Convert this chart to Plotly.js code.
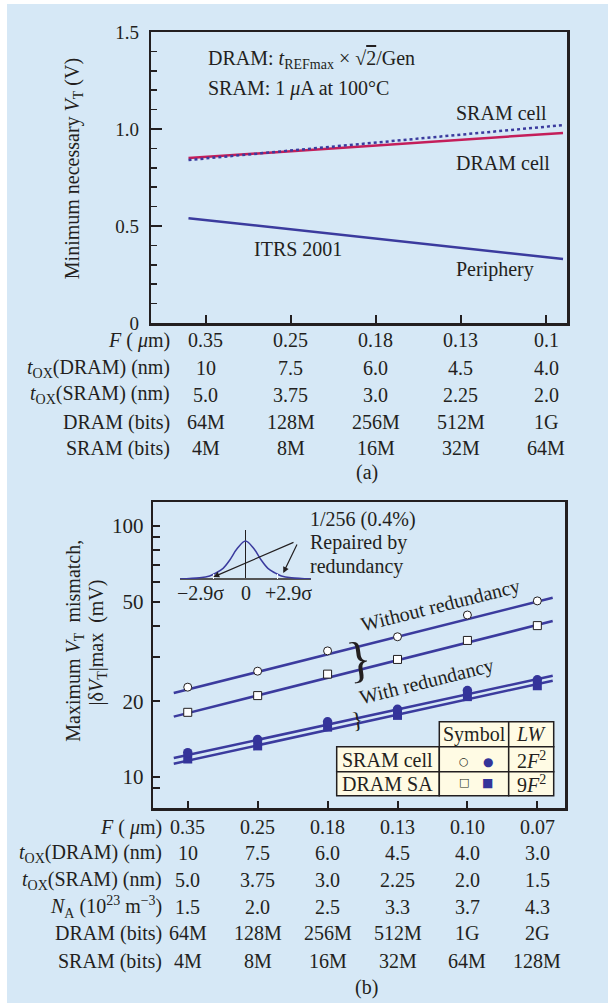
<!DOCTYPE html>
<html><head><meta charset="utf-8">
<script src="https://cdn.plot.ly/plotly-3.0.1.min.js"></script>
<style>html,body{margin:0;padding:0;background:#fff;} #chart{width:608px;height:1006px;}</style>
</head><body><div id="chart"></div>
<script>
// ---------- DATA: panel (a) ----------
const fA        = ['0.35','0.25','0.18','0.13','0.1'];
const toxDramA  = ['10','7.5','6.0','4.5','4.0'];
const toxSramA  = ['5.0','3.75','3.0','2.25','2.0'];
const dramBitsA = ['64M','128M','256M','512M','1G'];
const sramBitsA = ['4M','8M','16M','32M','64M'];
const lineXA     = [-0.2, 4.2];        // line extent in generation units
const sramCellA  = [0.84, 1.02];
const dramCellA  = [0.85, 0.98];
const peripheryA = [0.54, 0.33];
const yTicksA    = [0, 0.5, 1.0, 1.5];
const yTickTextA = ['0','0.5','1.0','1.5'];

// ---------- DATA: panel (b) ----------
const fB        = ['0.35','0.25','0.18','0.13','0.10','0.07'];
const toxDramB  = ['10','7.5','6.0','4.5','4.0','3.0'];
const toxSramB  = ['5.0','3.75','3.0','2.25','2.0','1.5'];
const naB       = ['1.5','2.0','2.5','3.3','3.7','4.3'];
const dramBitsB = ['64M','128M','256M','512M','1G','2G'];
const sramBitsB = ['4M','8M','16M','32M','64M','128M'];
const sramOpen   = [22.8, 26.4, 31.8, 36.2, 44.2, 50.3];
const dramOpen   = [18.1, 21.1, 25.7, 29.4, 35.0, 40.1];
const sramFilled = [12.5, 14.1, 16.6, 18.6, 22.1, 24.4];
const dramFilled = [11.8, 13.3, 15.8, 17.6, 20.9, 23.1];
const fitX        = [-0.2, 5.22];
const sramWithout = [21.6, 51.8];
const dramWithout = [17.4, 41.8];
const sramWith    = [11.9, 25.3];
const dramWith    = [11.3, 24.2];
const yTicksB    = [9,10,20,30,40,50,60,70,80,90,100];
const yTickTextB = ['','10','20','','','50','','','','','100'];

// inset distribution sketch (sigma units, relative height)
const gaussX = [-5.85,-4.1,-3.2,-2.6,-2.0,-1.4,-0.74,0,0.74,1.4,2.0,2.6,3.2,4.1,5.85];
const gaussY = [0.0,0.03,0.08,0.165,0.28,0.5,0.8,1.0,0.8,0.5,0.28,0.165,0.08,0.03,0.0];

// ---------- STYLE ----------
const W=608, H=1006;
const px = x => x/W, py = y => 1 - y/H;
const dark='#231f20', blue='#3b3b9e', crimson='#c41e5a', fillBlue='#34349a';
const FONT='Liberation Serif, Times New Roman, serif';
const idxA = fA.map((_,i)=>i), idxB = fB.map((_,i)=>i);

const traces = [
  {x:lineXA, y:peripheryA, mode:'lines', line:{color:blue,width:2.5}, xaxis:'x', yaxis:'y', hoverinfo:'skip'},
  {x:lineXA, y:dramCellA, mode:'lines', line:{color:crimson,width:2.5}, xaxis:'x', yaxis:'y', hoverinfo:'skip'},
  {x:lineXA, y:sramCellA, mode:'lines', line:{color:blue,width:2.5,dash:'dot'}, xaxis:'x', yaxis:'y', hoverinfo:'skip'},

  {x:fitX, y:sramWithout, mode:'lines', line:{color:blue,width:2.5}, xaxis:'x2', yaxis:'y2', hoverinfo:'skip'},
  {x:fitX, y:dramWithout, mode:'lines', line:{color:blue,width:2.5}, xaxis:'x2', yaxis:'y2', hoverinfo:'skip'},
  {x:fitX, y:sramWith, mode:'lines', line:{color:blue,width:2.5}, xaxis:'x2', yaxis:'y2', hoverinfo:'skip'},
  {x:fitX, y:dramWith, mode:'lines', line:{color:blue,width:2.5}, xaxis:'x2', yaxis:'y2', hoverinfo:'skip'},
  {x:idxB, y:sramOpen, mode:'markers', marker:{symbol:'circle',size:8,color:'#ffffff',line:{color:dark,width:1}}, xaxis:'x2', yaxis:'y2'},
  {x:idxB, y:dramOpen, mode:'markers', marker:{symbol:'square',size:8,color:'#ffffff',line:{color:dark,width:1}}, xaxis:'x2', yaxis:'y2'},
  {x:idxB, y:dramFilled, mode:'markers', marker:{symbol:'square',size:9,color:fillBlue,line:{width:0}}, xaxis:'x2', yaxis:'y2'},
  {x:idxB, y:sramFilled, mode:'markers', marker:{symbol:'circle',size:9.5,color:fillBlue,line:{width:0}}, xaxis:'x2', yaxis:'y2'},

  {x:gaussX, y:gaussY, mode:'lines', line:{color:blue,width:1.5,shape:'spline'}, xaxis:'x3', yaxis:'y3', hoverinfo:'skip'}
];

const axisBase = {showgrid:false, zeroline:false, showline:true, linecolor:dark, linewidth:2.5, mirror:true,
  ticks:'inside', tickcolor:dark, tickwidth:2, tickfont:{family:FONT,size:19,color:dark}, fixedrange:true};

const layout = {
  width:W, height:H, autosize:false, margin:{l:0,r:0,t:0,b:0},
  paper_bgcolor:'#ffffff', plot_bgcolor:'rgba(0,0,0,0)', showlegend:false,
  font:{family:FONT, color:dark, size:20},
  xaxis: Object.assign({}, axisBase, {domain:[px(151.2),px(567.3)], range:[-0.638,4.25], tickvals:idxA, showticklabels:false, ticklen:8, anchor:'y'}),
  yaxis: Object.assign({}, axisBase, {domain:[py(323),py(32)], range:[0,1.5], tickvals:yTicksA, ticktext:yTickTextA, ticklen:11, ticklabelstandoff:6, anchor:'x',
     minor:{tickmode:'linear', tick0:0, dtick:0.1, ticks:'inside', ticklen:6, tickwidth:1.5, tickcolor:dark}}),
  xaxis2: Object.assign({}, axisBase, {domain:[px(153.2),px(565.3)], range:[-0.494,5.40], tickvals:idxB, showticklabels:false, ticklen:7, anchor:'y2'}),
  yaxis2: Object.assign({}, axisBase, {type:'log', domain:[py(808),py(502)], range:[0.8765,2.0956], tickvals:yTicksB, ticktext:yTickTextB, ticklen:7, ticklabelstandoff:3, anchor:'x2',
     tickfont:{family:FONT,size:21,color:dark}}),
  xaxis3: {domain:[px(180),px(311)], range:[-5.85,5.85], anchor:'y3', showgrid:false, showline:false, zeroline:true, zerolinecolor:dark, zerolinewidth:1.5,
     tickvals:[-2.9,2.9], ticks:'inside', ticklen:5, tickcolor:'#ffffff', tickwidth:1, showticklabels:false, fixedrange:true},
  yaxis3: {domain:[py(579),py(530)], range:[0,1.289], anchor:'x3', showgrid:false, showline:false, zeroline:true, zerolinecolor:'#555555', zerolinewidth:1.5,
     showticklabels:false, ticks:'', fixedrange:true},
  shapes:[], annotations:[]
};

// background panel
layout.shapes.push({type:'rect', xref:'paper', yref:'paper', x0:px(7), x1:1, y0:py(1003), y1:py(4), fillcolor:'#d6e8f6', line:{width:0}, layer:'below'});

// legend table frame (panel b)
const colE = [336.7, 439.3, 508.7, 553.7];
const rowE = [721.7, 746.7, 771.7, 795.7];
for (let r=0;r<3;r++) for (let c=0;c<3;c++) {
  if (r===0 && c===0) continue;
  layout.shapes.push({type:'rect', xref:'paper', yref:'paper', x0:px(colE[c]), x1:px(colE[c+1]), y0:py(rowE[r+1]), y1:py(rowE[r]),
    fillcolor:'#fffbe4', line:{color:dark,width:1.5}});
}

const A = layout.annotations;
function txt(x,y,text,opts){ A.push(Object.assign({xref:'paper',yref:'paper',x:px(x),y:py(y),text:text,showarrow:false,xanchor:'left',yanchor:'middle',font:{family:FONT,size:20,color:dark}},opts||{})); }

// panel (a) texts
txt(205.5,59,'DRAM: <i>t</i><sub>REFmax</sub> × √<span style="text-decoration:overline">2</span>/Gen');
txt(205.5,88,'SRAM: 1 <i>μ</i>A at 100°C');
txt(454.4,113,'SRAM cell');
txt(454.4,163,'DRAM cell');
txt(252,249,'ITRS 2001');
txt(454.4,269,'Periphery');
txt(73.7,168.5,'Minimum necessary <i>V</i><sub>T</sub> (V)',{xanchor:'center',textangle:-90});

// panel (a) table
const labelsA = ['<i>F</i> ( <i>μ</i>m)','<i>t</i><sub>OX</sub>(DRAM) (nm)','<i>t</i><sub>OX</sub>(SRAM) (nm)','DRAM (bits)','SRAM (bits)'];
const rowsA = [fA, toxDramA, toxSramA, dramBitsA, sramBitsA];
const rowYA = [340, 368, 395, 422, 448];
rowsA.forEach((row,r)=>{
  txt(171.8,rowYA[r],labelsA[r],{xanchor:'right'});
  row.forEach((v,i)=>A.push({xref:'x',yref:'paper',x:i,y:py(rowYA[r]),text:v,showarrow:false,xanchor:'center',yanchor:'middle',font:{family:FONT,size:20,color:dark}}));
});
txt(367,473,'(a)',{xanchor:'center'});

// panel (b) texts
txt(73.7,641,'Maximum <i>V</i><sub>T</sub>  mismatch,',{xanchor:'center',textangle:-90});
txt(97,642.5,'|δ<i>V</i><sub>T</sub>|max  (mV)',{xanchor:'center',textangle:-90});
txt(308.3,519,'1/256 (0.4%)');
txt(308.3,542,'Repaired by');
txt(308.3,566,'redundancy');
txt(200.8,593,'−2.9σ',{xanchor:'center'});
txt(245.7,593,'0',{xanchor:'center'});
txt(288,593,'+2.9σ',{xanchor:'center'});
txt(440,605,'Without redundancy',{xanchor:'center',textangle:-14});
txt(426.5,681.7,'With redundancy',{xanchor:'center',textangle:-14});
txt(359,659,'}',{xanchor:'center',textangle:-8,font:{family:FONT,size:50,color:dark}});
txt(357,720.5,'}',{xanchor:'center',textangle:-8,font:{family:FONT,size:23,color:dark}});

// arrows in inset
A.push({xref:'paper',yref:'paper',x:px(213.3),y:py(577),ax:81.7,ay:-35.3,text:'',showarrow:true,arrowhead:2,arrowsize:1,arrowwidth:1.2,arrowcolor:dark,standoff:0});
A.push({xref:'paper',yref:'paper',x:px(283.3),y:py(573),ax:14.4,ay:-30,text:'',showarrow:true,arrowhead:2,arrowsize:1,arrowwidth:1.2,arrowcolor:dark,standoff:0});

// legend table texts
txt(474,734,'Symbol',{xanchor:'center'});
txt(531,734,'<i>LW</i>',{xanchor:'center'});
txt(340,760,'SRAM cell');
txt(340,784,'DRAM SA');
txt(531,760,'2<i>F</i><sup>2</sup>',{xanchor:'center'});
txt(531,784,'9<i>F</i><sup>2</sup>',{xanchor:'center'});
const GF = 'DejaVu Sans';
txt(464,761.7,'○',{xanchor:'center',font:{family:GF,size:11,color:dark}});
txt(487.8,761.7,'●',{xanchor:'center',font:{family:GF,size:12,color:fillBlue}});
txt(464,782.5,'□',{xanchor:'center',font:{family:GF,size:11,color:dark}});
txt(487.8,782.5,'■',{xanchor:'center',font:{family:GF,size:12,color:fillBlue}});

// panel (b) table
const labelsB = ['<i>F</i> ( <i>μ</i>m)','<i>t</i><sub>OX</sub>(DRAM) (nm)','<i>t</i><sub>OX</sub>(SRAM) (nm)','<i>N</i><sub>A</sub> (10<sup>23</sup> m<sup>−3</sup>)','DRAM (bits)','SRAM (bits)'];
const rowsB = [fB, toxDramB, toxSramB, naB, dramBitsB, sramBitsB];
const rowYB = [827, 853, 880, 907, 933, 961];
rowsB.forEach((row,r)=>{
  txt(163.6,rowYB[r],labelsB[r],{xanchor:'right'});
  row.forEach((v,i)=>A.push({xref:'x2',yref:'paper',x:i,y:py(rowYB[r]),text:v,showarrow:false,xanchor:'center',yanchor:'middle',font:{family:FONT,size:20,color:dark}}));
});
txt(366.4,987,'(b)',{xanchor:'center'});

Plotly.newPlot('chart', traces, layout, {staticPlot:true, displayModeBar:false});
</script>
</body></html>
